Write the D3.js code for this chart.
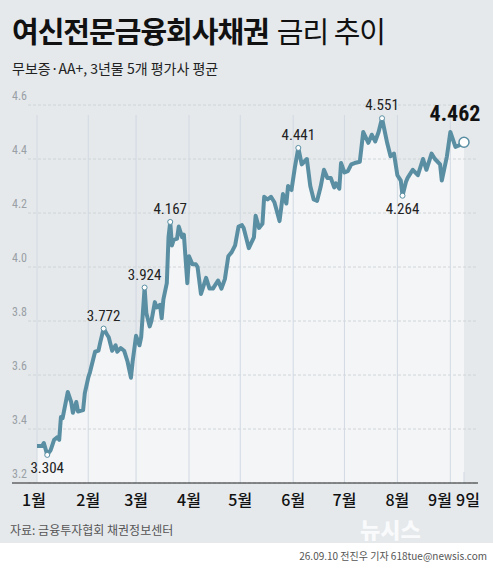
<!DOCTYPE html>
<html><head><meta charset="utf-8">
<script src="https://cdn.jsdelivr.net/npm/d3@7"></script>
<style>body{margin:0;background:#fff}svg{display:block}</style>
</head><body>
<script>
const days = [1,4,5,7,9,11,13,14,15,16,19,21,22,24,25,28,29,31,32,35,37,38,40,42,43,45,47,48,50,52,54,56,57,59,61,62,64,65,67,68,70,71,73,74,75,77,78,79,80,81,83,84,86,87,89,90,92,94,95,97,98,100,102,104,107,109,111,113,115,117,119,121,122,125,128,129,131,133,134,136,138,140,143,145,147,148,150,152,154,156,159,161,163,165,167,169,171,173,175,176,178,179,181,183,185,187,190,192,195,197,199,201,203,206,208,210,212,214,215,217,218,221,224,227,229,232,234,237,238,241,243,246,248,251];
const values = [3.337,3.337,3.348,3.304,3.322,3.36,3.37,3.36,3.444,3.44,3.537,3.50,3.46,3.50,3.465,3.47,3.533,3.59,3.61,3.686,3.69,3.72,3.772,3.75,3.74,3.69,3.71,3.686,3.70,3.69,3.65,3.59,3.65,3.745,3.71,3.74,3.924,3.83,3.78,3.80,3.87,3.85,3.86,3.81,3.88,3.94,4.11,4.167,4.08,4.10,4.105,4.15,4.11,4.12,3.94,4.04,4.01,4.01,4.00,3.90,3.92,3.96,3.92,3.92,3.95,3.92,3.955,4.04,4.055,4.08,4.15,4.155,4.144,4.07,4.11,4.19,4.145,4.16,4.26,4.25,4.26,4.24,4.17,4.27,4.235,4.30,4.285,4.37,4.441,4.38,4.40,4.30,4.25,4.245,4.295,4.36,4.33,4.33,4.295,4.31,4.29,4.385,4.35,4.355,4.38,4.385,4.39,4.50,4.46,4.49,4.465,4.50,4.551,4.46,4.41,4.42,4.34,4.32,4.264,4.315,4.33,4.36,4.34,4.40,4.36,4.42,4.40,4.38,4.32,4.41,4.50,4.445,4.45,4.462];
const yTicks = [3.2,3.4,3.6,3.8,4.0,4.2,4.4,4.6];
const monthLabels = ["1월","2월","3월","4월","5월","6월","7월","8월","9월"];
const monthDays = [1,31,59,90,120,151,181,212,243];
const labelled = [{d:7,v:3.304,pos:"below"},{d:40,v:3.772,pos:"above"},{d:64,v:3.924,pos:"above"},{d:79,v:4.167,pos:"above"},{d:154,v:4.441,pos:"above"},{d:203,v:4.551,pos:"above"},{d:215,v:4.264,pos:"below"}];
const lastLabel = "4.462";

const toDate = d => new Date(2026,0,d);
const data = days.map((d,i)=>({date:toDate(d),v:values[i]}));
const W=493,H=570;
const svg=d3.select("body").append("svg").attr("width",W).attr("height",H);
const F="'Roboto Condensed','Liberation Sans Narrow','Noto Sans CJK KR',sans-serif";
const K="'Noto Sans CJK KR',sans-serif";
svg.append("rect").attr("width",W).attr("height",543).attr("fill","#e5e9ec");
const x=d3.scaleTime().domain([toDate(1),toDate(251)]).range([37,464]);
const y=d3.scaleLinear().domain([3.2,4.6]).range([483,105]);

svg.append("path").datum(data).attr("fill","#f3f5f7")
 .attr("d",d3.area().x(d=>x(d.date)).y0(483).y1(d=>y(d.v)));
svg.selectAll(".g").data(yTicks).join("line").attr("x1",28).attr("x2",478)
 .attr("y1",d=>y(d)).attr("y2",d=>y(d)).attr("stroke","#c9ced3").attr("stroke-dasharray","3,2").attr("stroke-width",0.8);
svg.selectAll(".v").data(monthDays.concat([251])).join("line")
 .attr("x1",d=>x(toDate(d))).attr("x2",d=>x(toDate(d))).attr("y1",d=>d===251?472:115).attr("y2",483)
 .attr("stroke","#d2d9e2").attr("stroke-width",1);
svg.selectAll(".yt").data(yTicks).join("text").attr("x",12).attr("y",d=>y(d)-5)
 .attr("font-family",F).attr("font-size",12).attr("fill","#9aa0a6").text(d=>d.toFixed(1));
svg.append("path").datum(data).attr("fill","none").attr("stroke","#5a8fa3").attr("stroke-width",4)
 .attr("stroke-linejoin","round").attr("d",d3.line().x(d=>x(d.date)).y(d=>y(d.v)));
svg.append("line").attr("x1",12).attr("x2",478).attr("y1",483).attr("y2",483).attr("stroke","#222").attr("stroke-width",1.2);
svg.append("text").attr("x",360).attr("y",538).attr("font-family",K).attr("font-weight",900).attr("font-size",22).attr("fill","#fff").attr("opacity",0.8).text("뉴시스");
svg.selectAll(".ml").data(monthLabels).join("text").attr("x",(d,i)=>i===8?440:(i===0?34:x(toDate(monthDays[i])))).attr("y",506)
 .attr("text-anchor","middle").attr("font-family",K).attr("font-weight",500).attr("font-size",16).attr("fill","#111").text(d=>d);
svg.append("text").attr("x",468).attr("y",506).attr("text-anchor","middle").attr("font-family",K).attr("font-weight",500).attr("font-size",16).attr("fill","#111").text("9일");
labelled.forEach(a=>{
 const px=x(toDate(a.d)),py=y(a.v);
 svg.append("circle").attr("cx",px).attr("cy",py).attr("r",2.5).attr("fill","#fff").attr("stroke","#5a8fa3").attr("stroke-width",1);
 svg.append("text").attr("x",px).attr("y",a.pos==="above"?py-8:py+18).attr("text-anchor","middle")
  .attr("font-family",F).attr("font-size",15).attr("fill","#222").text(a.v.toFixed(3));
});
const lp=data[data.length-1];
svg.append("circle").attr("cx",x(lp.date)).attr("cy",y(lp.v)).attr("r",5).attr("fill","#fff").attr("stroke","#5a8fa3").attr("stroke-width",1.5);
svg.append("text").attr("x",455).attr("y",121).attr("text-anchor","middle").attr("font-family",F).attr("font-weight",700).attr("font-size",22).attr("fill","#111").text(lastLabel);
const t=svg.append("text").attr("x",12).attr("y",43).attr("font-family",K).attr("font-size",29).attr("fill","#111").attr("letter-spacing",-1);
t.append("tspan").attr("font-weight",700).text("여신전문금융회사채권");
t.append("tspan").attr("font-weight",400).attr("dx",8).text("금리 추이");
svg.append("text").attr("x",12).attr("y",74).attr("font-family",K).attr("font-size",14).attr("fill","#222").text("무보증·AA+, 3년물 5개 평가사 평균");
svg.append("text").attr("x",10).attr("y",535).attr("font-family",K).attr("font-size",12).attr("fill","#555").text("자료: 금융투자협회 채권정보센터");
svg.append("text").attr("x",487).attr("y",560).attr("text-anchor","end").attr("font-family",K).attr("font-size",10).attr("fill","#555").text("26.09.10 전진우 기자 618tue@newsis.com");
</script>
</body></html>
